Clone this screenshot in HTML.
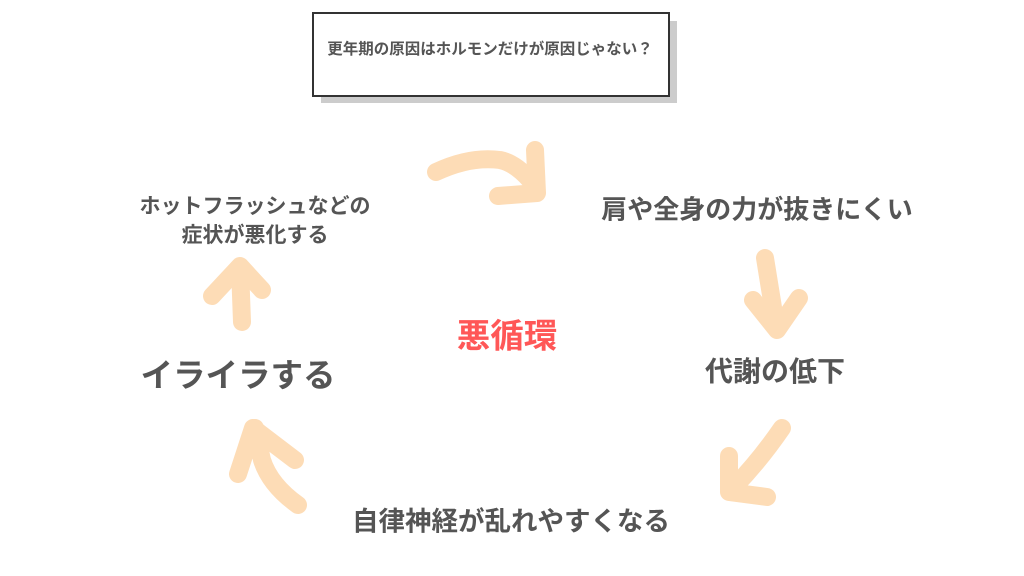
<!DOCTYPE html>
<html><head><meta charset="utf-8"><style>
html,body{margin:0;padding:0;width:1024px;height:576px;background:#fff;overflow:hidden;position:relative;font-family:"Liberation Sans","Noto Sans CJK JP",sans-serif;font-weight:bold;color:#555}
.t{position:absolute;white-space:nowrap;transform:translate(-50%,-50%);text-align:center}
.shadow{position:absolute;left:321px;top:21px;width:356px;height:82px;background:#ccc}
.box{position:absolute;left:312px;top:12px;width:354px;height:81px;border:2px solid #333;background:#fff}
</style></head><body>
<div class="shadow"></div>
<div class="box"></div>
<div class="t" style="left:490px;top:48px;font-size:15.5px">更年期の原因はホルモンだけが原因じゃない？</div>
<svg width="1024" height="576" style="position:absolute;left:0;top:0" fill="none" stroke="#FDDCB6" stroke-width="18" stroke-linecap="round" stroke-linejoin="round">
<path d="M436 172 Q470 156 500 160 Q515 163 530 180"/>
<path d="M535 150 L537 193 L498 196"/>
<path d="M765 258 L776 326"/>
<path d="M753 300 L777 330 L799 298"/>
<path d="M782 428 Q760 460 735 486"/>
<path d="M729 456 L729 492 L767 497"/>
<path d="M298 505 Q270 485 262 460 L255 428"/>
<path d="M238 474 L253 428 L295 460"/>
<path d="M242 322 L240 268"/>
<path d="M212 296 L240 266 L262 290"/>
</svg>
<div class="t" style="left:255px;top:205px;font-size:21px">ホットフラッシュなどの</div>
<div class="t" style="left:255px;top:234px;font-size:21px">症状が悪化する</div>
<div class="t" style="left:757px;top:208px;font-size:26px">肩や全身の力が抜きにくい</div>
<div class="t" style="left:775px;top:370px;font-size:28px">代謝の低下</div>
<div class="t" style="left:511px;top:519px;font-size:26.5px">自律神経が乱れやすくなる</div>
<div class="t" style="left:238px;top:373px;font-size:32.5px">イライラする</div>
<div class="t" style="left:507px;top:333px;font-size:33.5px;color:#FF5757">悪循環</div>
</body></html>
